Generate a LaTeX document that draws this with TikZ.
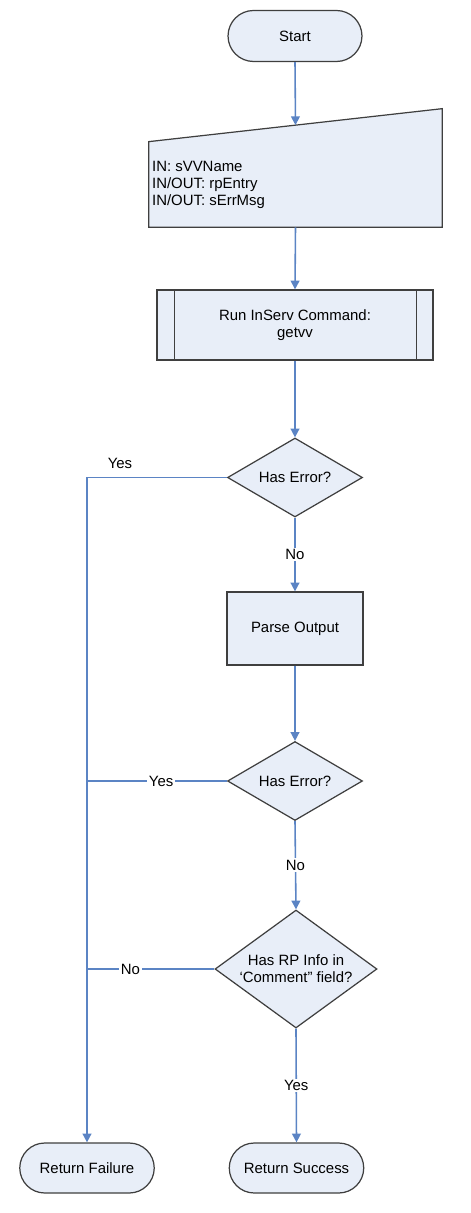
\documentclass[tikz,border=0pt]{standalone}
\usepackage{fontspec}
\setmainfont{Liberation Sans}
\usetikzlibrary{shapes.geometric,shapes.misc,arrows.meta}
\definecolor{boxfill}{HTML}{E8EEF8}
\definecolor{boxline}{HTML}{3F3F3F}
\definecolor{flowblue}{HTML}{5B84C4}
\tikzset{
  txt/.style={font=\fontsize{8.5}{9.6}\selectfont},
  base/.style={txt,draw=boxline,fill=boxfill,line width=0.7pt,inner sep=1pt},
  term/.style={base,rounded rectangle,minimum width=2.75cm,minimum height=1.02cm},
  proc/.style={base,rectangle,minimum width=2.72cm,minimum height=1.46cm},
  decide/.style={base,diamond,aspect=2,inner sep=0pt,minimum width=2.7cm,minimum height=1.58cm},
  flow/.style={draw=flowblue,line width=0.9pt},
  arr/.style={flow,-{Triangle[width=5pt,length=5pt]}},
  lbl/.style={txt,fill=white,inner sep=1pt},
}
\begin{document}
\begin{tikzpicture}[x=0.02cm,y=-0.02cm]
  \useasboundingbox (0,0) rectangle (470,1213);
  % main column
  \node[term] (start) at (295,36) {Start};
  \node[minimum width=5.86cm,minimum height=2.36cm,inner sep=0pt] (inbox) at (295.5,168) {};
  \filldraw[draw=boxline,fill=boxfill,line width=0.7pt]
    (inbox.south west) -- (inbox.south east) -- (inbox.north east)
    -- ([yshift=-0.66cm]inbox.north west) -- cycle;
  \coordinate (intop) at ([yshift=-0.33cm]inbox.north);
  \node[txt,anchor=west,align=left,inner sep=1pt] (params) at (150,185)
    {IN: sVVName\\IN/OUT: rpEntry\\IN/OUT: sErrMsg};
  \node[proc,minimum width=5.52cm,minimum height=1.4cm,align=center] (run) at (295,325)
    {Run InServ Command:\\getvv};
  \draw[boxline,line width=0.7pt] ([xshift=0.36cm]run.north west) -- ([xshift=0.36cm]run.south west);
  \draw[boxline,line width=0.7pt] ([xshift=-0.34cm]run.north east) -- ([xshift=-0.34cm]run.south east);
  \node[decide] (err1) at (295,477.5) {Has Error?};
  \node[proc] (parse) at (295,628.5) {Parse Output};
  \node[decide] (err2) at (295,781) {Has Error?};
  \node[decide,aspect=1.4,minimum width=3.24cm,minimum height=2.36cm,align=center] (rpinfo) at (296,969)
    {Has RP Info in\\`Comment'' field?};
  % ends
  \node[term,minimum width=2.76cm,minimum height=1cm] (fail) at (87,1168) {Return Failure};
  \node[term,minimum width=2.76cm,minimum height=1cm] (done) at (296.5,1168) {Return Success};
  % connectors
  \draw[arr] (start.south) -- (intop);
  \draw[arr] (inbox.south) -- (run.north);
  \draw[arr] (run.south) -- (err1.north);
  \draw[arr] (err1.south) -- node[lbl] {No} (parse.north);
  \draw[arr] (parse.south) -- (err2.north);
  \draw[arr] (err2.south) -- node[lbl] {No} (rpinfo.north);
  \draw[arr] (rpinfo.south) -- node[lbl] {Yes} (done.north);
  \draw[arr] (err1.west) -| (fail.north);
  \node[txt] (yes1) at (120,463) {Yes};
  \draw[flow] (err2.west) -- node[lbl,pos=0.47] {Yes} (err2.west -| fail.north);
  \draw[flow] (rpinfo.west) -- node[lbl,pos=0.66] {No} (rpinfo.west -| fail.north);
\end{tikzpicture}
\end{document}
